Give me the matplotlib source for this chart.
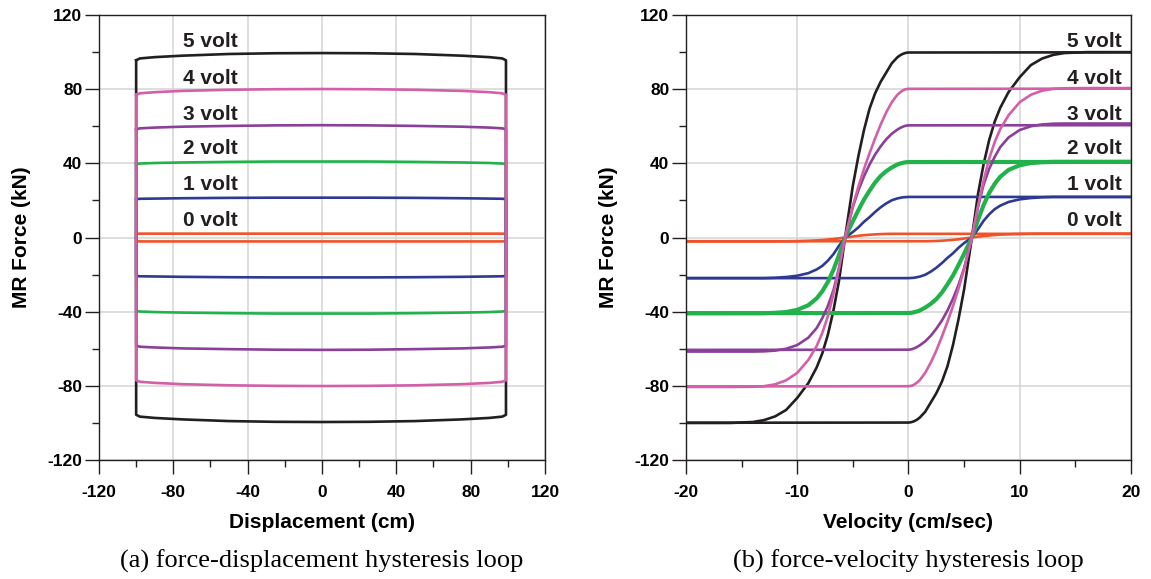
import matplotlib
matplotlib.use("Agg")
import matplotlib.pyplot as plt
import numpy as np

plt.rcParams['font.family'] = ['Liberation Sans', 'DejaVu Sans']
plt.rcParams['axes.unicode_minus'] = False

volts = ['0 volt', '1 volt', '2 volt', '3 volt', '4 volt', '5 volt']
colors = ['#f0532a', '#2e3a92', '#22b24c', '#8a3f98', '#d35fa9', '#231f20']

# (a) top edge of each force-displacement loop (bottom edge is the mirror)
disp_top = [-100, -98, -90, -75, -50, -25, 0, 25, 50, 75, 90, 97, 99]
force_top = {
    '0 volt': [2.0, 2.1, 2.1, 2.1, 2.1, 2.1, 2.1, 2.1, 2.1, 2.1, 2.1, 2.1, 2.0],
    '1 volt': [20.7, 20.9, 21.0, 21.2, 21.4, 21.5, 21.5, 21.5, 21.4, 21.2, 21.0, 20.9, 20.7],
    '2 volt': [39.6, 39.9, 40.2, 40.5, 40.8, 41.0, 41.0, 41.0, 40.8, 40.5, 40.2, 39.9, 39.6],
    '3 volt': [58.3, 58.9, 59.3, 59.8, 60.2, 60.5, 60.6, 60.5, 60.2, 59.8, 59.3, 58.9, 58.3],
    '4 volt': [77.0, 77.8, 78.4, 79.1, 79.7, 80.0, 80.1, 80.0, 79.7, 79.1, 78.4, 77.8, 77.0],
    '5 volt': [95.6, 96.6, 97.3, 98.1, 99.0, 99.4, 99.5, 99.4, 99.0, 98.1, 97.3, 96.6, 95.6],
}

# (b) rising branch that leaves -F at zero velocity (other branch is point-mirrored)
vel_up = [-20, 0, 0.25, 0.5, 0.75, 1, 1.5, 2, 2.5, 3, 3.5, 4, 4.5, 5, 5.7,
          6.25, 6.75, 7.25, 7.75, 8.25, 9, 10, 11, 12, 13, 14, 16, 20]
force_up = {
    '0 volt': [-2.0, -2.0, -2.0, -2.0, -2.0, -2.0, -2.0, -1.95, -1.85, -1.7, -1.5, -1.25, -0.95, -0.55, 0.0,
               0.45, 0.8, 1.1, 1.35, 1.55, 1.75, 1.95, 2.05, 2.1, 2.1, 2.1, 2.1, 2.1],
    '1 volt': [-21.9, -21.9, -21.8, -21.7, -21.4, -21.1, -20.1, -18.4, -16.3, -13.8, -11.0, -8.5, -5.5, -3.0, 0.0,
               4.5, 9.0, 12.5, 15.3, 17.2, 19.2, 20.6, 21.3, 21.7, 21.9, 21.9, 21.9, 21.9],
    '2 volt': [-40.8, -40.7, -40.6, -40.3, -39.9, -39.4, -37.8, -35.8, -33.2, -29.7, -25.3, -20.5, -14.8, -8.8, 0.0,
               9.5, 17.5, 24.0, 29.0, 32.8, 36.5, 39.0, 40.2, 40.6, 40.8, 40.8, 40.8, 40.8],
    '3 volt': [-60.6, -60.5, -60.3, -59.8, -59.1, -58.2, -56.0, -53.0, -49.2, -44.8, -39.4, -33.0, -25.5, -16.5, 0.0,
               16.5, 28.5, 37.0, 43.5, 48.8, 54.0, 58.0, 60.0, 61.0, 61.4, 61.5, 61.5, 61.5],
    '4 volt': [-80.3, -80.2, -80.0, -79.4, -78.3, -77.0, -73.0, -67.5, -61.0, -53.5, -45.5, -37.0, -27.5, -17.0, 0.0,
               17.0, 30.5, 42.5, 51.5, 58.5, 66.0, 73.0, 77.0, 79.2, 80.2, 80.5, 80.6, 80.6],
    '5 volt': [-99.9, -99.8, -99.6, -99.1, -98.3, -97.2, -94.0, -89.0, -84.0, -77.8, -69.5, -58.0, -44.0, -28.0, 0.0,
               23.5, 39.5, 52.5, 62.5, 70.0, 78.5, 86.5, 93.0, 96.5, 98.5, 99.5, 100.0, 100.0],
}

label_y = [9, 28.5, 48, 66.5, 86, 105.5]
draw_order = ['5 volt', '0 volt', '1 volt', '2 volt', '3 volt', '4 volt']

fig = plt.figure(figsize=(11.51, 5.79), dpi=100)
ax1 = fig.add_axes([0.086, 0.2055, 0.3875, 0.7685])
ax2 = fig.add_axes([0.596, 0.2055, 0.3866, 0.7685])

# panel (a)
for v in draw_order:
    c = colors[volts.index(v)]
    top = np.array(force_top[v])
    x = disp_top + disp_top[::-1] + [disp_top[0]]
    y = list(top) + list(-top[::-1]) + [top[0]]
    ax1.plot(x, y, color=c, lw=1.9, solid_joinstyle='round')
for v, ly in zip(volts, label_y):
    ax1.text(-75, ly, v, fontsize=15, fontweight='bold', color='#231f20',
             ha='left', va='center')

ax1.set_xlim(-120, 120)
ax1.set_xticks(np.arange(-120, 121, 40))
ax1.set_xticks(np.arange(-100, 101, 40), minor=True)
ax1.set_xlabel('Displacement (cm)', fontsize=15, fontweight='bold', labelpad=9)

# panel (b)
for v in draw_order:
    c = colors[volts.index(v)]
    vu = np.array(vel_up)
    fu = np.array(force_up[v])
    w = 3.0 if v == '2 volt' else 1.9
    ax2.plot(vu, fu, color=c, lw=w, solid_joinstyle='round')
    ax2.plot(-vu, -fu, color=c, lw=w, solid_joinstyle='round')
for v, ly in zip(volts, label_y):
    ax2.text(19.2, ly, v, fontsize=15, fontweight='bold', color='#231f20',
             ha='right', va='center')

ax2.set_xlim(-20, 20)
ax2.set_xticks(np.arange(-20, 21, 10))
ax2.set_xticks(np.arange(-15, 16, 10), minor=True)
ax2.set_xlabel('Velocity (cm/sec)', fontsize=15, fontweight='bold', labelpad=9)

for ax in (ax1, ax2):
    ax.set_ylim(-120, 120)
    ax.set_yticks(np.arange(-120, 121, 40))
    ax.set_yticks(np.arange(-100, 101, 40), minor=True)
    ax.set_ylabel('MR Force (kN)', fontsize=15, fontweight='bold', labelpad=12)
    ax.grid(which='major', color='#d4d4d4', lw=1.1)
    ax.set_axisbelow(True)
    ax.tick_params(which='major', length=10, width=1.0, color='#231f20')
    ax.tick_params(which='minor', length=5, width=1.0, color='#231f20')
    ax.tick_params(axis='x', which='major', pad=8)
    ax.tick_params(axis='y', which='major', pad=2)
    for lab in ax.get_xticklabels() + ax.get_yticklabels():
        lab.set_fontweight('bold')
        lab.set_fontsize(12.5)
    for s in ax.spines.values():
        s.set_color('#231f20')
        s.set_linewidth(1.0)

fig.text(0.2795, 0.031, '(a) force-displacement hysteresis loop', ha='center', va='center',
         fontsize=19, family=['Liberation Serif', 'DejaVu Serif'])
fig.text(0.789, 0.031, '(b) force-velocity hysteresis loop', ha='center', va='center',
         fontsize=19, family=['Liberation Serif', 'DejaVu Serif'])

fig.savefig('out.png', dpi=100)
